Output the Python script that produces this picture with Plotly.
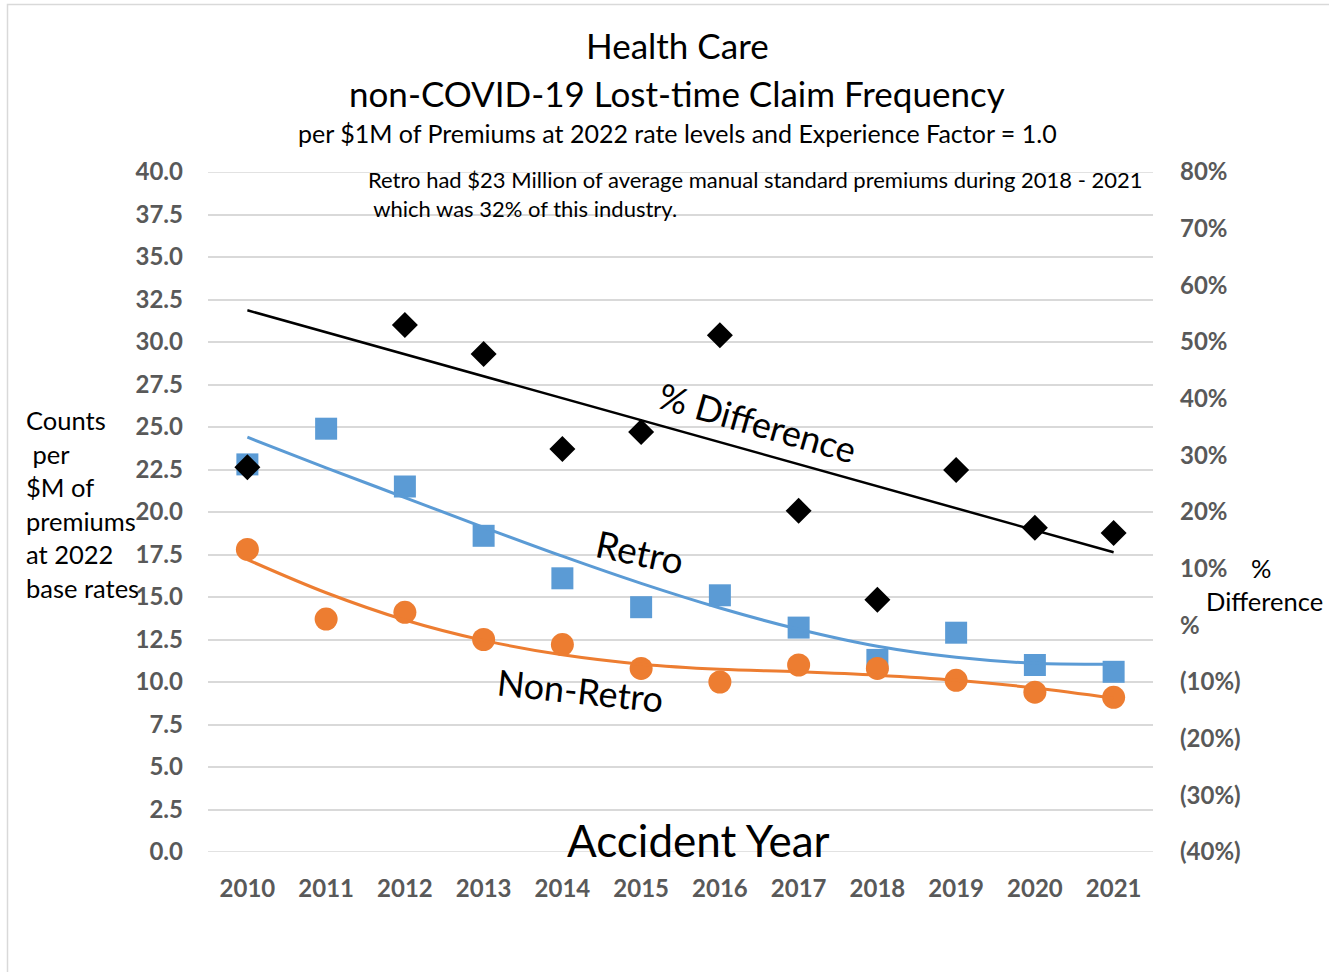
import plotly.graph_objects as go

# ---------------- data ----------------
years = [2010, 2011, 2012, 2013, 2014, 2015, 2016, 2017, 2018, 2019, 2020, 2021]
year_labels = [str(y) for y in years]

retro = [22.8, 24.9, 21.5, 18.6, 16.1, 14.4, 15.1, 13.2, 11.3, 12.9, 11.0, 10.6]
non_retro = [17.8, 13.7, 14.1, 12.5, 12.2, 10.8, 10.0, 11.0, 10.8, 10.1, 9.4, 9.1]
pct_diff = [0.279, None, 0.530, 0.479, 0.311, 0.341, 0.512, 0.202, 0.045, 0.274, 0.172, 0.163]

# trendlines
retro_trend = [24.4, 22.6, 20.85, 19.1, 17.4, 15.8, 14.35, 13.1, 12.1, 11.45, 11.1, 11.05]
non_retro_trend = [17.2, 15.25, 13.65, 12.45, 11.6, 11.05, 10.75, 10.6, 10.4, 10.1, 9.65, 9.05]
diff_trend_years = [2010, 2021]
diff_trend = [0.556, 0.129]

left_ticks = [i * 2.5 for i in range(17)]
left_tick_text = [f"{v:.1f}" for v in left_ticks]
right_ticks = [-0.4, -0.3, -0.2, -0.1, 0.0, 0.1, 0.2, 0.3, 0.4, 0.5, 0.6, 0.7, 0.8]
right_tick_text = ["(40%)", "(30%)", "(20%)", "(10%)", "%", "10%", "20%", "30%", "40%",
                   "50%", "60%", "70%", "80%"]

# ---------------- layout geometry ----------------
W, H = 1329, 972
L, R, T, B = 208, 1153, 172, 852
PW, PH = R - L, B - T


def px(x):
    return (x - L) / PW


def py(y):
    return (B - y) / PH


FONT = "Lato, 'Open Sans', sans-serif"
BLUE = "#5B9BD5"
ORANGE = "#ED7D31"
GRID = "#D9D9D9"
TICK = "#595959"

fig = go.Figure()

fig.add_trace(go.Scatter(x=years, y=retro, mode="markers", name="Retro",
                         marker=dict(symbol="square", size=22, color=BLUE)))
fig.add_trace(go.Scatter(x=years, y=non_retro, mode="markers", name="Non-Retro",
                         marker=dict(symbol="circle", size=23, color=ORANGE)))
fig.add_trace(go.Scatter(x=years, y=retro_trend, mode="lines", line_shape="spline",
                         line=dict(color=BLUE, width=3), name="Retro trend"))
fig.add_trace(go.Scatter(x=years, y=non_retro_trend, mode="lines", line_shape="spline",
                         line=dict(color=ORANGE, width=3), name="Non-Retro trend"))
fig.add_trace(go.Scatter(x=years, y=pct_diff, mode="markers", yaxis="y2", name="% Difference",
                         marker=dict(symbol="diamond", size=20, color="black")))
fig.add_trace(go.Scatter(x=diff_trend_years, y=diff_trend, mode="lines", yaxis="y2",
                         line=dict(color="black", width=2.5), name="% Difference trend"))

annotations = []


def ann(text, x, y, size, xanchor="center", yanchor="middle", xref="paper", yref="paper",
        angle=0, color="black"):
    annotations.append(dict(text=text, x=x, y=y, xref=xref, yref=yref, showarrow=False,
                            xanchor=xanchor, yanchor=yanchor, textangle=angle,
                            font=dict(family=FONT, size=size, color=color)))


# titles
ann("Health Care", px(677), py(45), 35)
ann("non-COVID-19 Lost-time Claim Frequency", px(677), py(93), 35)
ann("per $1M of Premiums at 2022 rate levels and Experience Factor = 1.0", px(677), py(133), 25)
# note
ann("Retro had $23 Million of average manual standard premiums during 2018 - 2021",
    px(366), py(180), 22, xanchor="left")
ann("&nbsp;which was 32% of this industry.", px(366), py(208), 22, xanchor="left")
# left axis title
for i, line in enumerate(["Counts", "&nbsp;per", "$M of", "premiums", "at 2022", "base rates"]):
    ann(line, px(24), py(420 + i * 33.6), 25.5, xanchor="left")
# right axis title
ann("%", px(1261), py(568), 25.5)
ann("Difference", px(1264), py(601), 25.5)
# x axis title (inside plot)
ann("Accident Year", px(698), py(840), 44)
# series labels
ann("% Difference", px(757), py(422), 36, angle=16)
ann("Retro", px(640), py(551), 37, angle=12)
ann("Non-Retro", px(580), py(690), 36, angle=6)

# gridlines at the two ends of the left axis (plotly drops edge gridlines)
edge_grid = [dict(type="line", xref="paper", yref="y", x0=0, x1=1, y0=v, y1=v,
                  line=dict(color=GRID, width=1.5), layer="below")
             for v in (left_ticks[0], left_ticks[-1])]

fig.update_layout(
    width=W, height=H,
    margin=dict(l=L, r=W - R, t=T, b=H - B, pad=0),
    paper_bgcolor="white", plot_bgcolor="white",
    showlegend=False,
    font=dict(family=FONT, color="black"),
    xaxis=dict(range=[2009.5, 2021.5], tickvals=years, ticktext=year_labels,
               showgrid=False, zeroline=False, showline=False, ticks="",
               tickfont=dict(family=FONT, size=24, color=TICK, weight="bold"),
               ticklabelstandoff=20),
    yaxis=dict(range=[0, 40], tickvals=left_ticks, ticktext=left_tick_text,
               showgrid=True, gridcolor=GRID, gridwidth=1.5, zeroline=False,
               showline=False, ticks="",
               tickfont=dict(family=FONT, size=24, color=TICK, weight="bold"),
               ticklabelstandoff=24),
    yaxis2=dict(range=[-0.4, 0.8], tickvals=right_ticks, ticktext=right_tick_text,
                overlaying="y", side="right", showgrid=False, zeroline=False,
                showline=False, ticks="",
                tickfont=dict(family=FONT, size=24, color=TICK, weight="bold"),
                ticklabelstandoff=26),
    annotations=annotations,
    shapes=[dict(type="rect", xref="paper", yref="paper",
                 x0=px(7.5), x1=px(1345), y0=py(990), y1=py(4.5),
                 line=dict(color=GRID, width=1.5), fillcolor="rgba(0,0,0,0)", layer="below")]
           + edge_grid,
)

fig.write_html("out.html", config={"displayModeBar": False},
               post_script="document.body.style.margin='0';document.body.style.overflow='hidden';")
